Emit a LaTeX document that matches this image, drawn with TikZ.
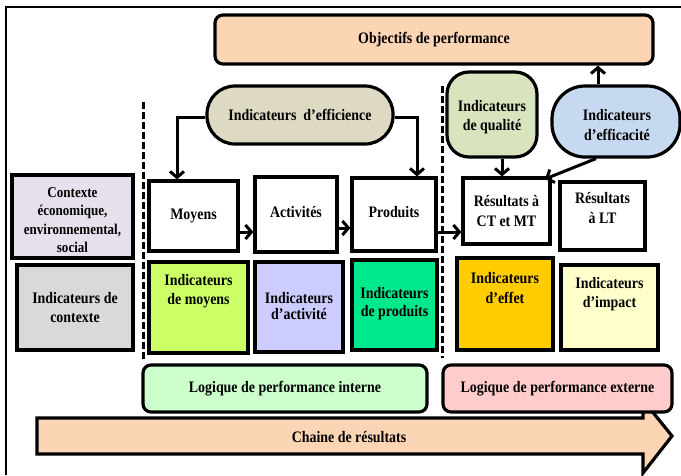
\documentclass[tikz,border=0pt]{standalone}
\usepackage{fontspec}
\setmainfont{Liberation Serif}[FakeStretch=0.87]
\usetikzlibrary{arrows.meta}

\definecolor{peach}{RGB}{252,213,181}
\definecolor{khaki}{RGB}{221,217,195}
\definecolor{olivelight}{RGB}{215,228,189}
\definecolor{skylight}{RGB}{198,217,241}
\definecolor{lavender}{RGB}{230,224,236}
\definecolor{greylight}{RGB}{217,217,217}
\definecolor{lime}{RGB}{204,255,102}
\definecolor{periwinkle}{RGB}{204,204,255}
\definecolor{mint}{RGB}{0,232,140}
\definecolor{amber}{RGB}{255,204,0}
\definecolor{cream}{RGB}{255,255,204}
\definecolor{palegreen}{RGB}{204,255,204}
\definecolor{palepink}{RGB}{255,204,204}

\begin{document}
\begin{tikzpicture}[x=1pt,y=-1pt,
  lbl/.style={align=center, inner sep=0pt,
    font=\bfseries\fontsize{16}{19.5}\selectfont},
  box/.style={draw=black, line width=3.2pt, lbl},
  link/.style={draw=black, line width=3pt,
    -{Straight Barb[length=6pt,width=14pt]}},
  divider/.style={draw=black, line width=3pt, dash pattern=on 7pt off 3pt},
  frameline/.style={draw=black, line width=1.6pt}]
\useasboundingbox (0,0) rectangle (681,475);

% outer frame (top and left edges)
\coordinate (fTL) at (6,7);
\coordinate (fTR) at (681,7);
\coordinate (fBL) at (6,475);
\draw[frameline] (fTR) -- (fTL) -- (fBL);

% results chain arrow along the bottom
\filldraw[fill=peach, draw=black, line width=3.2pt, line join=miter]
  (37,418) -- (643,418) -- (643,400) -- (672,436) -- (643,473)
  -- (643,454) -- (37,454) -- cycle;
\node[lbl] (chain) at (349,437) {Chaine de r\'esultats};

% top row
\node[box, fill=peach, rounded corners=8pt, minimum width=438pt,
  minimum height=49pt] (obj) at (434,39.5) {Objectifs de performance};
\node[box, fill=khaki, rounded corners=28pt, minimum width=186pt,
  minimum height=58pt] (effi) at (300,115) {Indicateurs\ \ d’efficience};
\node[box, fill=olivelight, rounded corners=22pt, minimum width=90pt,
  minimum height=85pt] (qual) at (492,114.5) {};
\node[lbl] (qualT) at (492,117) {Indicateurs\\de qualité};
\node[box, fill=skylight, rounded corners=33pt, minimum width=128pt,
  minimum height=71pt] (effa) at (616,121.5) {};
\node[lbl] (effaT) at (617,125) {Indicateurs\\d’efficacité};

% result chain boxes
\node[box, fill=white, minimum width=89pt, minimum height=70pt]
  (moy) at (193.5,216) {Moyens};
\node[box, fill=white, minimum width=82pt, minimum height=75pt]
  (act) at (296,214.5) {};
\node[lbl] (actT) at (296,212) {Activités};
\node[box, fill=white, minimum width=84pt, minimum height=73pt]
  (prod) at (394,214.5) {};
\node[lbl] (prodT) at (394,212) {Produits};
\node[box, fill=white, minimum width=87pt, minimum height=66pt]
  (rct) at (506.5,211) {Résultats à\\CT et MT};
\node[box, fill=white, minimum width=85pt, minimum height=68pt]
  (rlt) at (602.5,216) {};
\node[lbl] (rltT) at (602.5,208) {Résultats\\à LT};

% context
\node[box, fill=lavender, minimum width=121pt, minimum height=83pt]
  (ctx) at (72.5,216.5) {};
\node[lbl, font=\bfseries\fontsize{15}{18.5}\selectfont] (ctxT) at (72.5,220)
  {Contexte\\économique,\\environnemental,\\social};

% indicator row
\node[box, fill=greylight, minimum width=116pt, minimum height=85pt]
  (ictx) at (75,307.5) {Indicateurs de\\contexte};
\node[box, fill=lime, minimum width=99pt, minimum height=91pt]
  (imoy) at (198.5,307.5) {};
\node[lbl] (imoyT) at (198.5,291) {Indicateurs\\de moyens};
\node[box, fill=periwinkle, minimum width=88pt, minimum height=90pt]
  (iact) at (299,307) {};
\node[lbl, font=\bfseries\fontsize{16}{16.5}\selectfont] (iactT) at (299,306)
  {Indicateurs\\d’activité};
\node[box, fill=mint, minimum width=85pt, minimum height=90pt]
  (iprod) at (394.5,305) {};
\node[lbl, font=\bfseries\fontsize{16}{18}\selectfont] (iprodT) at (394.5,304)
  {Indicateurs\\de produits};
\node[box, fill=amber, minimum width=96pt, minimum height=92pt]
  (ieff) at (505,304) {};
\node[lbl] (ieffT) at (505,288) {Indicateurs\\d’effet};
\node[box, fill=cream, minimum width=97pt, minimum height=85pt]
  (iimp) at (609.5,307.5) {};
\node[lbl] (iimpT) at (609.5,294) {Indicateurs\\d’impact};

% performance logic bands
\node[box, fill=palegreen, rounded corners=8pt, minimum width=284pt,
  minimum height=47pt] (lint) at (285,388.5) {Logique de performance interne};
\node[box, fill=palepink, rounded corners=8pt, minimum width=229pt,
  minimum height=47pt] (lext) at (557.5,388.5) {Logique de performance externe};

% dashed separators
\coordinate (d1a) at (143,102);
\coordinate (d1b) at (143,362);
\coordinate (d2a) at (442,86);
\coordinate (d2b) at (442,358);
\draw[divider] (d1a) -- (d1b);
\draw[divider] (d2a) -- (d2b);

% connectors
\draw[link, line join=miter] (effi.west |- 0,117) -| (177,0 |- moy.north);
\draw[link, line join=miter] (effi.east |- 0,117) -| (417,0 |- prod.north);
\draw[link] (moy.east |- 0,232) -- (act.west |- 0,232);
\draw[link] (act.east |- 0,228) -- (prod.west |- 0,228);
\draw[link] (prod.east |- 0,232) -- (rct.west |- 0,232);
\draw[link] (502,0 |- qual.south) -- (502,0 |- rct.north);
\draw[link] (596,0 |- effa.south) -- (545,179);
\draw[link] (598,0 |- effa.north) -- (598,0 |- obj.south);
\end{tikzpicture}
\end{document}
